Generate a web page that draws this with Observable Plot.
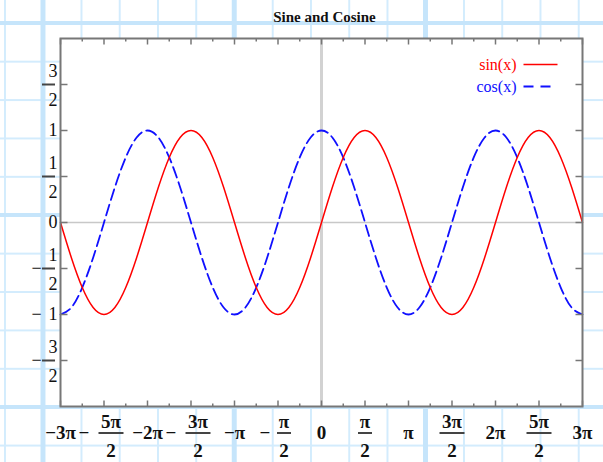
<!DOCTYPE html>
<html><head><meta charset="utf-8">
<script src="https://cdn.jsdelivr.net/npm/d3@7"></script>
<script src="https://cdn.jsdelivr.net/npm/@observablehq/plot@0.6"></script>
<style>
html,body{margin:0;padding:0;}
body{width:603px;height:462px;overflow:hidden;background-color:#fff;
background-image:
 linear-gradient(90deg,#c6e5fb 0,#c6e5fb 5px,transparent 5px),
 linear-gradient(180deg,#c6e5fb 0,#c6e5fb 4px,transparent 4px),
 linear-gradient(90deg,#d3ecfd 0,#d3ecfd 1.5px,transparent 1.5px),
 linear-gradient(180deg,#d3ecfd 0,#d3ecfd 1.5px,transparent 1.5px);
background-size:191.25px 100%,100% 192px,38.25px 100%,100% 38.4px;
background-position:40.5px 0,0 21px,4px 0,0 22.3px;}
#chart svg{display:block;}
</style></head><body><div id="chart"></div><script>
// ---- data ----
const title = "Sine and Cosine";
const seriesNames = ["sin(x)", "cos(x)"];
// x sample positions, in units of π (-3π .. 3π, step π/8)
const xSamples = d3.range(-24, 25).map(k => k / 8);
// values at each sample
const sinValues = [
  0, -0.383, -0.707, -0.924, -1, -0.924, -0.707, -0.383,
  0, 0.383, 0.707, 0.924, 1, 0.924, 0.707, 0.383,
  0, -0.383, -0.707, -0.924, -1, -0.924, -0.707, -0.383,
  0, 0.383, 0.707, 0.924, 1, 0.924, 0.707, 0.383,
  0, -0.383, -0.707, -0.924, -1, -0.924, -0.707, -0.383,
  0, 0.383, 0.707, 0.924, 1, 0.924, 0.707, 0.383,
  0];
const cosValues = [
  -1, -0.924, -0.707, -0.383, 0, 0.383, 0.707, 0.924,
  1, 0.924, 0.707, 0.383, 0, -0.383, -0.707, -0.924,
  -1, -0.924, -0.707, -0.383, 0, 0.383, 0.707, 0.924,
  1, 0.924, 0.707, 0.383, 0, -0.383, -0.707, -0.924,
  -1, -0.924, -0.707, -0.383, 0, 0.383, 0.707, 0.924,
  1, 0.924, 0.707, 0.383, 0, -0.383, -0.707, -0.924,
  -1];
const xTickValues = [-3, -2.5, -2, -1.5, -1, -0.5, 0, 0.5, 1, 1.5, 2, 2.5, 3];
const xTickLabels = ["−3π", "−5π/2", "−2π", "−3π/2", "−π", "−π/2", "0", "π/2", "π", "3π/2", "2π", "5π/2", "3π"];
const xMinorTicks = [-2.75, -2.25, -1.75, -1.25, -0.75, -0.25, 0.25, 0.75, 1.25, 1.75, 2.25, 2.75];
const yTickValues = [-1.5, -1, -0.5, 0, 0.5, 1, 1.5];
const yTickLabels = ["−3/2", "−1", "−1/2", "0", "1/2", "1", "3/2"];

// ---- build tables ----
const sinPts = xSamples.map((x, i) => ({x, y: sinValues[i]}));
const cosPts = xSamples.map((x, i) => ({x, y: cosValues[i]}));
function split(label, v) {
  const neg = label.startsWith("−");
  const body = neg ? label.slice(1) : label;
  const [num, den] = body.split("/");
  return {v, label, neg, num, den, wide: num.length > 1};
}
const xl = xTickValues.map((v, i) => split(xTickLabels[i], v));
const yl = yTickValues.map((v, i) => split(yTickLabels[i], v));
const xWhole = xl.filter(d => !d.den);
const xFracNegWide = xl.filter(d => d.den && d.neg && d.wide);
const xFracNegNarrow = xl.filter(d => d.den && d.neg && !d.wide);
const xFracPos = xl.filter(d => d.den && !d.neg);

// ---- symbols ----
const hLine = w => ({draw(ctx) { ctx.moveTo(-w / 2, 0); ctx.lineTo(w / 2, 0); }});
const vTick = len => ({draw(ctx) { ctx.moveTo(0, 0); ctx.lineTo(0, len); }});
const hTick = len => ({draw(ctx) { ctx.moveTo(0, 0); ctx.lineTo(len, 0); }});

const serif = "Liberation Serif, Times New Roman, serif";
const tickStyle = {fill: "none", stroke: "#777", strokeWidth: 1.5};
const xLab = {fontFamily: serif, fontWeight: "bold", fontSize: 19, fill: "#111", frameAnchor: "bottom", lineAnchor: "middle"};
const yLab = {fontFamily: serif, fontSize: 18, fill: "#111", frameAnchor: "left", lineAnchor: "middle"};
const barStyle = {fill: "none", stroke: "#444", strokeWidth: 2};

const marks = [
  Plot.frame({fill: "white", stroke: "none"}),
  Plot.ruleY([0], {stroke: "#c8c8c8", strokeWidth: 1.5}),
  Plot.ruleX([0], {stroke: "#d2d2d2", strokeWidth: 3}),
  Plot.line(cosPts, {x: "x", y: "y", stroke: "#1010ff", strokeWidth: 1.8, strokeDasharray: "11,5", curve: "natural"}),
  Plot.line(sinPts, {x: "x", y: "y", stroke: "#ff0000", strokeWidth: 1.5, curve: "natural"}),
  // ticks (inward)
  Plot.dot(xTickValues, {x: d => d, frameAnchor: "bottom", symbol: vTick(-6), ...tickStyle}),
  Plot.dot(xMinorTicks, {x: d => d, frameAnchor: "bottom", symbol: vTick(-3), ...tickStyle}),
  Plot.dot(xTickValues, {x: d => d, frameAnchor: "top", symbol: vTick(6), ...tickStyle}),
  Plot.dot(xMinorTicks, {x: d => d, frameAnchor: "top", symbol: vTick(3), ...tickStyle}),
  Plot.dot(yTickValues, {y: d => d, frameAnchor: "left", symbol: hTick(7), ...tickStyle}),
  Plot.dot(yTickValues, {y: d => d, frameAnchor: "right", symbol: hTick(-7), ...tickStyle}),
  Plot.frame({stroke: "#777", strokeWidth: 2}),
  // title
  Plot.text([title], {text: d => d, frameAnchor: "top", dy: -21, dx: 3, fontFamily: serif, fontWeight: "bold", fontSize: 15, fill: "#111", lineAnchor: "middle"}),
  // x labels: whole
  Plot.text(xWhole, {x: "v", text: "label", dy: 26, ...xLab}),
  // x labels: positive fractions
  Plot.text(xFracPos, {x: "v", text: "num", dy: 15, ...xLab}),
  Plot.text(xFracPos, {x: "v", text: "den", dy: 44, ...xLab}),
  Plot.dot(xFracPos.filter(d => d.wide), {x: "v", frameAnchor: "bottom", dy: 26.5, symbol: hLine(25), ...barStyle}),
  Plot.dot(xFracPos.filter(d => !d.wide), {x: "v", frameAnchor: "bottom", dy: 26.5, symbol: hLine(14), ...barStyle}),
  // x labels: negative fractions (wide numerators)
  Plot.text(xFracNegWide, {x: "v", text: "num", dx: 7, dy: 15, ...xLab}),
  Plot.text(xFracNegWide, {x: "v", text: "den", dx: 7, dy: 44, ...xLab}),
  Plot.text(xFracNegWide, {x: "v", text: () => "−", dx: -20, dy: 26, ...xLab}),
  Plot.dot(xFracNegWide, {x: "v", frameAnchor: "bottom", dx: 7, dy: 26.5, symbol: hLine(25), ...barStyle}),
  // x labels: negative fractions (narrow numerators)
  Plot.text(xFracNegNarrow, {x: "v", text: "num", dx: 6, dy: 15, ...xLab}),
  Plot.text(xFracNegNarrow, {x: "v", text: "den", dx: 6, dy: 44, ...xLab}),
  Plot.text(xFracNegNarrow, {x: "v", text: () => "−", dx: -13, dy: 26, ...xLab}),
  Plot.dot(xFracNegNarrow, {x: "v", frameAnchor: "bottom", dx: 6, dy: 26.5, symbol: hLine(14), ...barStyle}),
  // y labels
  Plot.text(yl.filter(d => !d.den), {y: "v", text: "num", dx: -12, ...yLab}),
  Plot.text(yl.filter(d => d.den), {y: "v", text: "num", dx: -12, dy: -13, ...yLab}),
  Plot.text(yl.filter(d => d.den), {y: "v", text: "den", dx: -12, dy: 16, ...yLab}),
  Plot.dot(yl.filter(d => d.den), {y: "v", frameAnchor: "left", dx: -12, symbol: hLine(13), ...barStyle}),
  Plot.text(yl.filter(d => d.neg), {y: "v", text: () => "−", dx: -29, ...yLab}),
  // legend
  ...seriesNames.map((name, i) => Plot.text([name], {text: d => d, frameAnchor: "top-right", dx: -66, dy: 26 + 22 * i, textAnchor: "end", lineAnchor: "middle", fontFamily: serif, fontSize: 16, fill: i === 0 ? "#ff0000" : "#1010ff"})),
  Plot.dot([seriesNames[0]], {frameAnchor: "top-right", dx: -42, dy: 26, symbol: hLine(34), fill: "none", stroke: "#ff0000", strokeWidth: 1.5}),
  Plot.dot([seriesNames[1]], {frameAnchor: "top-right", dx: -42, dy: 48, symbol: hLine(34), fill: "none", stroke: "#1010ff", strokeWidth: 1.8, strokeDasharray: "10,7"})
];

const chart = Plot.plot({
  width: 603,
  height: 462,
  marginTop: 38,
  marginBottom: 56,
  marginLeft: 60,
  marginRight: 21,
  style: {background: "transparent", overflow: "visible"},
  x: {domain: [-3, 3], axis: null},
  y: {domain: [-2, 2], axis: null},
  marks
});
document.getElementById("chart").appendChild(chart);
</script></body></html>
